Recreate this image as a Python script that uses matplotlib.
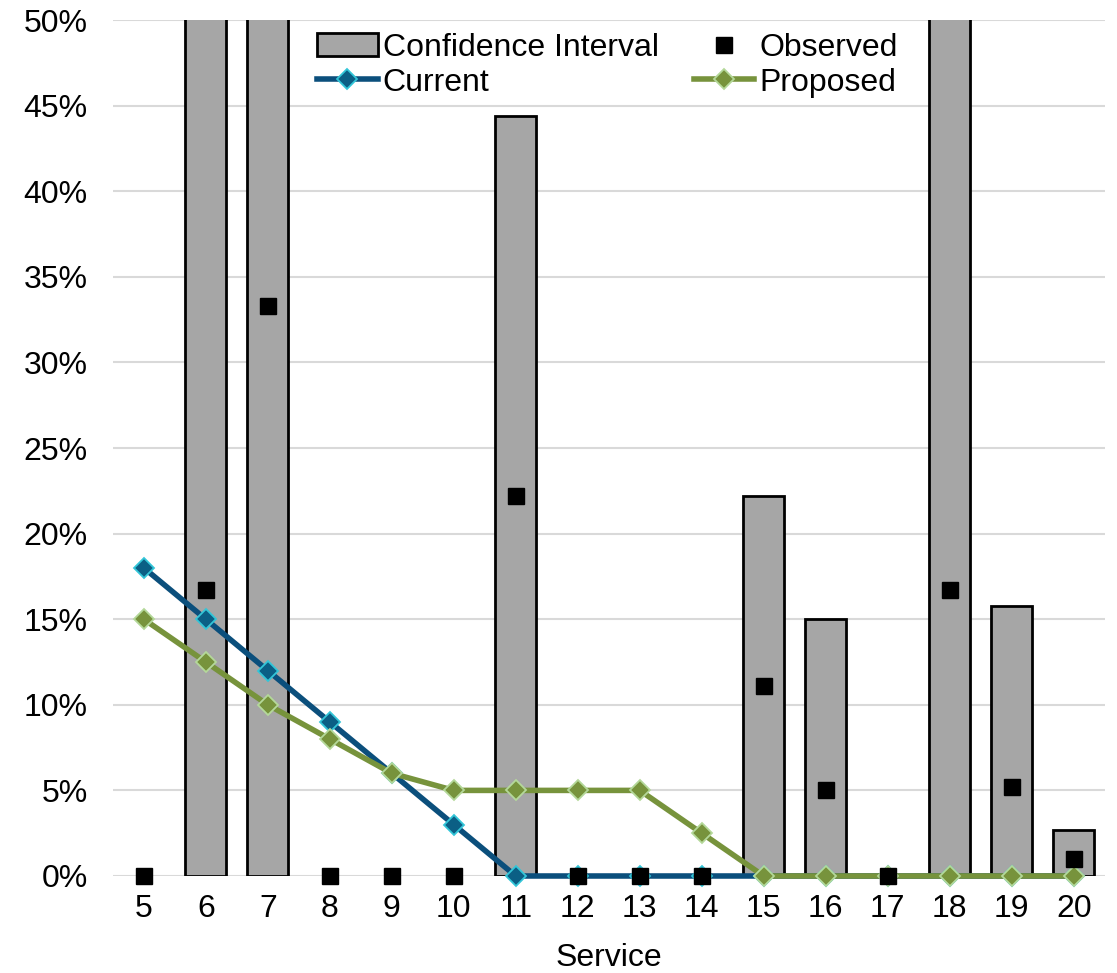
import matplotlib
matplotlib.use("Agg")
import matplotlib.pyplot as plt
import numpy as np

plt.rcParams['font.family'] = ['Liberation Sans', 'DejaVu Sans']

services = [5, 6, 7, 8, 9, 10, 11, 12, 13, 14, 15, 16, 17, 18, 19, 20]
ci_upper = [0, 60, 75, 0, 0, 0, 44.4, 0, 0, 0, 22.2, 15.0, 0, 58, 15.8, 2.7]
observed = [0, 16.7, 33.3, 0, 0, 0, 22.2, 0, 0, 0, 11.1, 5.0, 0, 16.7, 5.2, 1.0]
current = [18, 15, 12, 9, 6, 3, 0, 0, 0, 0, 0, 0, 0, 0, 0, 0]
proposed = [15, 12.5, 10, 8, 6, 5, 5, 5, 5, 2.5, 0, 0, 0, 0, 0, 0]
yticks = [0, 5, 10, 15, 20, 25, 30, 35, 40, 45, 50]

fig = plt.figure(figsize=(11.17, 9.73), dpi=100)
ax = fig.add_axes([0.101, 0.0997, 0.888, 0.8797])

x = np.arange(len(services))
ci_mask = [v > 0 for v in ci_upper]
ax.bar(x[ci_mask], np.array(ci_upper)[ci_mask], width=0.66, color='#A6A6A6',
       edgecolor='black', linewidth=2, label='Confidence Interval', zorder=2)
ax.plot(x, current, color='#0B4F7C', linewidth=4, marker='D', markersize=10,
        markerfacecolor='#0B5F85', markeredgecolor='#33C6D8', markeredgewidth=1.3,
        label='Current', zorder=3, clip_on=False)
ax.plot(x, observed, linestyle='none', marker='s', markersize=11, color='black',
        label='Observed', zorder=5, clip_on=False)
ax.plot(x, proposed, color='#77933C', linewidth=4, marker='D', markersize=10,
        markerfacecolor='#77933C', markeredgecolor='#B4D89A', markeredgewidth=1.3,
        label='Proposed', zorder=4, clip_on=False)

ax.set_xlim(-0.5, len(services) - 0.5)
ax.set_ylim(0, 50)
ax.set_yticks(yticks)
ax.set_yticklabels([f"{v}%" for v in yticks])
ax.set_xticks(x)
ax.set_xticklabels([str(s) for s in services])
ax.tick_params(axis='both', length=0, labelsize=23, colors='#000000')
ax.tick_params(axis='x', pad=13)
ax.tick_params(axis='y', pad=18)
ax.yaxis.grid(True, color='#D9D9D9', linewidth=1.5, zorder=0)
ax.set_axisbelow(True)
for s in ax.spines.values():
    s.set_visible(False)
ax.set_xlabel('Service', fontsize=23, labelpad=14)

handles, labels = ax.get_legend_handles_labels()
order = ['Confidence Interval', 'Current', 'Observed', 'Proposed']
hmap = dict(zip(labels, handles))
leg = ax.legend([hmap[k] for k in order], order, ncol=2, loc='upper left',
                bbox_to_anchor=(0.193, 1.0), borderaxespad=0.0, frameon=False,
                fontsize=23, columnspacing=1.1, handlelength=1.9,
                handletextpad=0.15, labelspacing=0.15)

fig.savefig('out.png', dpi=100)
